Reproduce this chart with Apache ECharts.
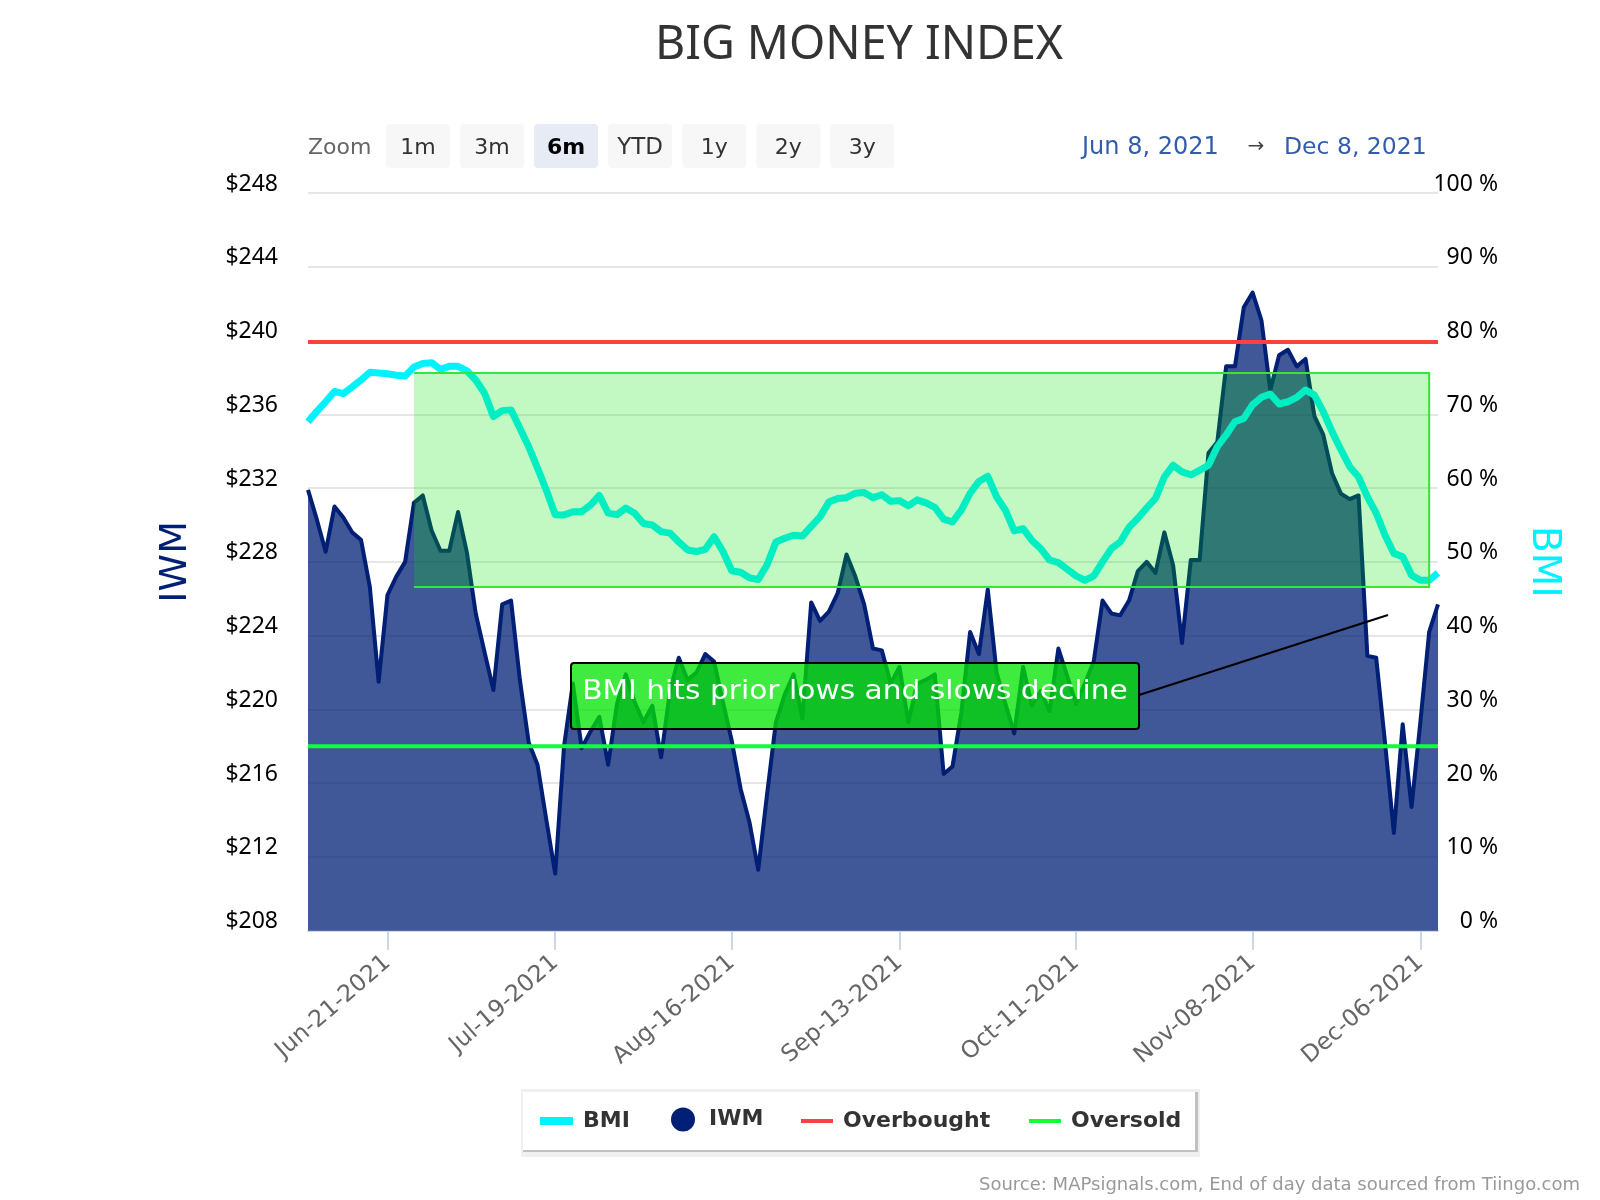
<!DOCTYPE html>
<html><head><meta charset="utf-8">
<style>html,body{margin:0;padding:0;background:#fff}#c{width:1600px;height:1200px}</style>
<script src="https://cdn.jsdelivr.net/npm/echarts@6/dist/echarts.min.js"></script>
</head><body><div id="c"></div>
<script>
const dates = ['Jun-08-2021','Jun-09-2021','Jun-10-2021','Jun-11-2021','Jun-14-2021','Jun-15-2021','Jun-16-2021','Jun-17-2021','Jun-18-2021','Jun-21-2021','Jun-22-2021','Jun-23-2021','Jun-24-2021','Jun-25-2021','Jun-28-2021','Jun-29-2021','Jun-30-2021','Jul-01-2021','Jul-02-2021','Jul-06-2021','Jul-07-2021','Jul-08-2021','Jul-09-2021','Jul-12-2021','Jul-13-2021','Jul-14-2021','Jul-15-2021','Jul-16-2021','Jul-19-2021','Jul-20-2021','Jul-21-2021','Jul-22-2021','Jul-23-2021','Jul-26-2021','Jul-27-2021','Jul-28-2021','Jul-29-2021','Jul-30-2021','Aug-02-2021','Aug-03-2021','Aug-04-2021','Aug-05-2021','Aug-06-2021','Aug-09-2021','Aug-10-2021','Aug-11-2021','Aug-12-2021','Aug-13-2021','Aug-16-2021','Aug-17-2021','Aug-18-2021','Aug-19-2021','Aug-20-2021','Aug-23-2021','Aug-24-2021','Aug-25-2021','Aug-26-2021','Aug-27-2021','Aug-30-2021','Aug-31-2021','Sep-01-2021','Sep-02-2021','Sep-03-2021','Sep-07-2021','Sep-08-2021','Sep-09-2021','Sep-10-2021','Sep-13-2021','Sep-14-2021','Sep-15-2021','Sep-16-2021','Sep-17-2021','Sep-20-2021','Sep-21-2021','Sep-22-2021','Sep-23-2021','Sep-24-2021','Sep-27-2021','Sep-28-2021','Sep-29-2021','Sep-30-2021','Oct-01-2021','Oct-04-2021','Oct-05-2021','Oct-06-2021','Oct-07-2021','Oct-08-2021','Oct-11-2021','Oct-12-2021','Oct-13-2021','Oct-14-2021','Oct-15-2021','Oct-18-2021','Oct-19-2021','Oct-20-2021','Oct-21-2021','Oct-22-2021','Oct-25-2021','Oct-26-2021','Oct-27-2021','Oct-28-2021','Oct-29-2021','Nov-01-2021','Nov-02-2021','Nov-03-2021','Nov-04-2021','Nov-05-2021','Nov-08-2021','Nov-09-2021','Nov-10-2021','Nov-11-2021','Nov-12-2021','Nov-15-2021','Nov-16-2021','Nov-17-2021','Nov-18-2021','Nov-19-2021','Nov-22-2021','Nov-23-2021','Nov-24-2021','Nov-26-2021','Nov-29-2021','Nov-30-2021','Dec-01-2021','Dec-02-2021','Dec-03-2021','Dec-06-2021','Dec-07-2021','Dec-08-2021'];
const tickDates = ['Jun-21-2021','Jul-19-2021','Aug-16-2021','Sep-13-2021','Oct-11-2021','Nov-08-2021','Dec-06-2021'];
const iwm = [231.9,230.3,228.55,231.0,230.4,229.6,229.2,226.66,221.5,226.2,227.2,228,231.2,231.6,229.7,228.6,228.6,230.7,228.5,225.2,223.1,221.05,225.7,225.9,221.6,218.2,217,214,211.1,218,221.4,217.9,218.8,219.6,217,220.3,221.9,220.4,219.3,220.2,217.4,221,222.8,221.6,222,223,222.6,220.4,218.3,215.7,213.9,211.3,215.4,219.3,220.8,221.9,219.5,225.8,224.8,225.3,226.3,228.4,227.2,225.7,223.3,223.2,221.4,222.3,219.3,221.4,221.6,221.9,216.5,216.9,219.8,224.2,223,226.5,222,220.3,218.7,222.3,220.2,221,219.9,223.3,221.8,220.3,221.4,222.6,225.9,225.2,225.1,225.9,227.5,228,227.4,229.6,227.8,223.6,228.1,228.1,233.9,234.5,238.6,238.6,241.8,242.6,241.1,237.3,239.2,239.5,238.6,239,235.9,234.9,232.8,231.7,231.4,231.6,222.9,222.8,218.2,213.3,219.2,214.7,219.3,224.2,225.7];
const bmi = [69,70.4,71.7,73.1,72.8,73.7,74.65,75.7,75.6,75.5,75.3,75.2,76.4,76.9,77,76.1,76.5,76.5,75.9,74.65,72.85,69.7,70.5,70.6,68.1,65.6,62.7,59.7,56.4,56.35,56.8,56.8,57.7,59,56.6,56.4,57.3,56.6,55.2,55,54.1,53.9,52.7,51.6,51.4,51.7,53.4,51.4,48.8,48.6,47.85,47.6,49.6,52.7,53.2,53.6,53.5,54.8,56.1,58.1,58.6,58.7,59.3,59.4,58.7,59.1,58.2,58.3,57.6,58.4,58,57.4,55.8,55.4,57,59.3,60.9,61.6,58.8,57,54.2,54.5,52.9,51.8,50.25,49.9,49,48.1,47.5,48.1,50,51.8,52.7,54.7,55.9,57.3,58.6,61.5,63.1,62.2,61.8,62.4,63.1,65.6,67.2,69,69.45,71.3,72.3,72.75,71.4,71.7,72.3,73.3,72.6,70.35,67.65,65.2,62.9,61.5,58.8,56.6,53.6,51.15,50.7,48.2,47.5,47.5,48.5];
const overboughtLevel = 79.8;
const oversoldLevel = 25;
const bandRange = ['Jun-24-2021','Dec-07-2021',75.6,46.6];
const zoomLabels = ['1m','3m','6m','YTD','1y','2y','3y'];
const activeZoom = '6m';
const font = 'DejaVu Sans';
const font2 = 'Noto Sans';

const chart = echarts.init(document.getElementById('c'), null, {width:1600,height:1200});
const btns = zoomLabels.flatMap((t,i)=>{
  const x = 386 + i*74.05, on = t===activeZoom;
  return [
    {type:'rect',shape:{x,y:124,width:64,height:44,r:4},style:{fill:on?'#e6ebf5':'#f7f7f7'},z:5},
    {type:'text',x:x+32,y:148,z:6,style:{text:t,fill:on?'#000':'#333',font:(on?'bold ':'')+(t==='YTD'?'23':'22')+'px "'+font+'"',align:'center',verticalAlign:'middle'}}
  ];
});
const legendBase = {orient:'horizontal',padding:0,selectedMode:false,textStyle:{fontFamily:font,fontSize:22,fontWeight:'bold',color:'#333',padding:[0,0,0,5]}};
chart.setOption({
  animation:false,
  backgroundColor:'#fff',
  title:{text:'BIG MONEY INDEX',left:854,top:17,textAlign:'center',textStyle:{fontFamily:font2,fontSize:46.5,fontWeight:'normal',color:'#333'}},
  grid:{left:308,right:162,top:193,bottom:269.3},
  legend:[
    Object.assign({},legendBase,{data:[{name:'BMI',icon:'rect'}],left:540,top:1110,itemWidth:33,itemHeight:8}),
    Object.assign({},legendBase,{data:[{name:'IWM',icon:'circle'}],left:671,top:1107.5,itemWidth:24,itemHeight:24,textStyle:Object.assign({},legendBase.textStyle,{padding:[0,0,0,9]})}),
    Object.assign({},legendBase,{data:[{name:'Overbought',icon:'rect'}],left:801,top:1110,itemWidth:32,itemHeight:4}),
    Object.assign({},legendBase,{data:[{name:'Oversold',icon:'rect'}],left:1029,top:1110,itemWidth:32,itemHeight:4})
  ],
  xAxis:{type:'category',boundaryGap:false,data:dates,
    axisLine:{lineStyle:{color:'#ccd6eb',width:2}},
    axisTick:{length:19,interval:(i,v)=>tickDates.includes(v),lineStyle:{color:'#ccd6eb',width:2}},
    axisLabel:{rotate:41,margin:29,interval:(i,v)=>tickDates.includes(v),fontFamily:font,fontSize:23.5,color:'#666'},
    splitLine:{show:false}},
  yAxis:[
    {type:'value',min:208,max:248,interval:4,position:'left',name:'IWM',nameLocation:'middle',nameRotate:90,nameGap:113,
     nameTextStyle:{fontFamily:font,fontSize:38,color:'#001f75'},
     axisLine:{show:false},axisTick:{show:false},
     axisLabel:{margin:30,verticalAlign:'bottom',lineHeight:18,fontFamily:font2,fontSize:23,color:'#000',formatter:'${value}'},
     splitLine:{lineStyle:{color:'#e6e6e6',width:2}}},
    {type:'value',min:0,max:100,interval:10,position:'right',name:'BMI',nameLocation:'middle',nameRotate:-90,nameGap:86,
     nameTextStyle:{fontFamily:font,fontSize:39,color:'#00f2ff'},
     axisLine:{show:false},axisTick:{show:false},
     axisLabel:{margin:60,align:'right',verticalAlign:'bottom',lineHeight:18,fontFamily:font2,fontSize:23,color:'#000',formatter:'{value} %'},
     splitLine:{show:false}}
  ],
  series:[
    {name:'IWM',type:'line',yAxisIndex:0,data:iwm,z:2,symbol:'none',clip:true,
     itemStyle:{color:'#001f75'},lineStyle:{color:'#001f75',width:4,join:'round'},
     areaStyle:{color:'#001f75',opacity:0.75,origin:'start'}},
    {name:'BMI',type:'line',yAxisIndex:1,data:bmi,z:3,symbol:'none',
     itemStyle:{color:'#00f2ff'},lineStyle:{color:'#00f2ff',width:7,join:'round'}},
    {name:'Band',type:'custom',yAxisIndex:1,z:4,silent:true,
     data:[[dates.indexOf(bandRange[0]),dates.indexOf(bandRange[1]),bandRange[2],bandRange[3]]],
     encode:{x:[0,1],y:[2,3]},
     renderItem:(p,api)=>{
       const a=api.coord([api.value(0),api.value(2)]), b=api.coord([api.value(1),api.value(3)]);
       return {type:'group',children:[
         {type:'rect',shape:{x:a[0],y:a[1],width:b[0]-a[0],height:b[1]-a[1]},style:{fill:'rgba(0,225,0,0.24)'}},
         {type:'polyline',shape:{points:[[a[0],a[1]],[b[0],a[1]],[b[0],b[1]],[a[0],b[1]]]},style:{fill:null,stroke:'#36e536',lineWidth:2}}
       ]};
     }},
    {name:'Overbought',type:'line',yAxisIndex:1,data:dates.map(()=>overboughtLevel),z:5,symbol:'none',
     itemStyle:{color:'#ff4040'},lineStyle:{color:'#ff4040',width:4}},
    {name:'Oversold',type:'line',yAxisIndex:1,data:dates.map(()=>oversoldLevel),z:5,symbol:'none',
     itemStyle:{color:'#11ff3b'},lineStyle:{color:'#11ff3b',width:4}}
  ],
  graphic:{elements:[
    {type:'text',x:308,y:148,z:6,style:{text:'Zoom',fill:'#666',font:'22px "'+font+'"',align:'left',verticalAlign:'middle'}},
    ...btns,
    {type:'text',x:1082,y:148,z:6,style:{text:'Jun 8, 2021',fill:'#335cad',font:'24px "'+font+'"',align:'left',verticalAlign:'middle'}},
    {type:'text',x:1256,y:147,z:6,style:{text:'→',fill:'#444',font:'20px "'+font+'"',align:'center',verticalAlign:'middle'}},
    {type:'text',x:1284,y:148,z:6,style:{text:'Dec 8, 2021',fill:'#335cad',font:'23.5px "'+font+'"',align:'left',verticalAlign:'middle'}},
    {type:'line',shape:{x1:1139,y1:695,x2:1388,y2:615},style:{stroke:'#000',lineWidth:2},z:20},
    {type:'rect',shape:{x:571,y:663,width:568,height:66,r:3},style:{fill:'rgba(0,228,0,0.75)',stroke:'#000',lineWidth:2},z:20},
    {type:'text',x:855,y:692,scaleX:1.12,z:21,style:{text:'BMI hits prior lows and slows decline',fill:'#fff',font:'26.5px "'+font+'"',align:'center',verticalAlign:'middle'}},
    {type:'rect',shape:{x:521,y:1089,width:679,height:68},style:{fill:'#f0f0f0'},z:1},
    {type:'rect',shape:{x:523,y:1092,width:675,height:60},style:{fill:'#c0c0c0'},z:1},
    {type:'rect',shape:{x:523,y:1092,width:672,height:58},style:{fill:'#fff'},z:1},
    {type:'text',x:1580,y:1185,z:6,style:{text:'Source: MAPsignals.com, End of day data sourced from Tiingo.com',fill:'#999',font:'18px "'+font+'"',align:'right',verticalAlign:'middle'}}
  ]}
});
</script></body></html>
